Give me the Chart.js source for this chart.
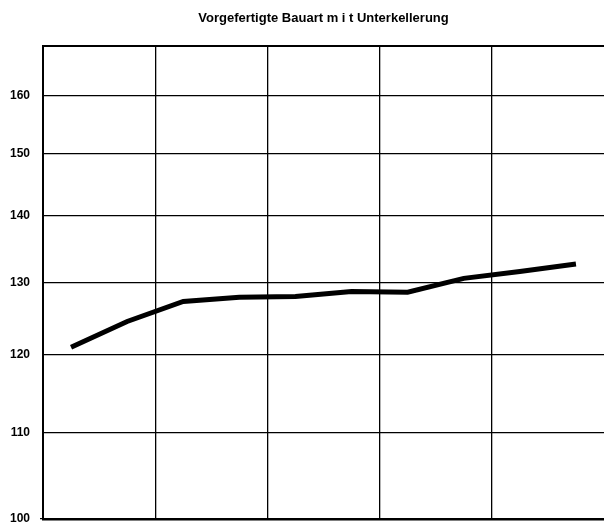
<!DOCTYPE html>
<html>
<head>
<meta charset="utf-8">
<script src="https://cdn.jsdelivr.net/npm/chart.js@4/dist/chart.umd.min.js"></script>
<style>
  html, body { margin: 0; padding: 0; background: #fff; }
  #wrap { width: 604px; height: 524px; position: relative; }
</style>
</head>
<body>
<div id="wrap"><canvas id="chart"></canvas></div>
<script>
  const TITLE = "Vorgefertigte Bauart m i t Unterkellerung";

  // ten periods, two per grid column
  const periods = [0.5, 1.5, 2.5, 3.5, 4.5, 5.5, 6.5, 7.5, 8.5, 9.5];
  const indexValues = [121.0, 124.5, 127.3, 127.9, 128.0, 128.7, 128.6, 130.6, 131.6, 132.7];

  const yTicks = [100, 110, 120, 130, 140, 150, 160];
  const xGrid = [0, 2, 4, 6, 8];

  const FONT = "'Liberation Sans', Arial, Helvetica, sans-serif";

  const titleAndFrame = {
    id: "titleAndFrame",
    afterDraw(chart) {
      const { ctx, chartArea } = chart;
      ctx.save();
      ctx.strokeStyle = "#000";
      ctx.lineWidth = 2;
      ctx.beginPath();
      ctx.moveTo(chartArea.left, chartArea.top);
      ctx.lineTo(chartArea.right, chartArea.top);
      ctx.stroke();

      ctx.fillStyle = "#000";
      ctx.font = "bold 13px " + FONT;
      ctx.textAlign = "center";
      ctx.textBaseline = "middle";
      ctx.fillText(TITLE, (chartArea.left + chartArea.right) / 2, 18);
      ctx.restore();
    }
  };

  new Chart(document.getElementById("chart").getContext("2d"), {
    type: "line",
    data: {
      datasets: [{
        data: periods.map((x, i) => ({ x, y: indexValues[i] })),
        borderColor: "#000",
        borderWidth: 5,
        pointRadius: 0,
        tension: 0,
        fill: false
      }]
    },
    options: {
      responsive: true,
      maintainAspectRatio: false,
      animation: false,
      layout: { padding: { top: 46, right: 0, bottom: 0, left: 0 } },
      plugins: {
        legend: { display: false },
        tooltip: { enabled: false },
        title: { display: false }
      },
      scales: {
        x: {
          type: "linear",
          min: 0,
          max: 10,
          afterBuildTicks: (scale) => {
            scale.ticks = xGrid.map((value) => ({ value }));
          },
          afterFit: (scale) => {
            scale.height = 5;
            scale.paddingLeft = 0;
            scale.paddingRight = 0;
          },
          ticks: { display: false },
          grid: { color: "#000", lineWidth: 1.3, drawTicks: false },
          border: { display: true, color: "#000", width: 2.5 }
        },
        y: {
          type: "logarithmic",
          min: 100,
          max: 169,
          afterBuildTicks: (scale) => {
            scale.ticks = yTicks.map((value) => ({ value }));
          },
          afterFit: (scale) => {
            scale.width = 43;
            scale.paddingTop = 0;
            scale.paddingBottom = 0;
          },
          ticks: {
            color: "#000",
            font: { family: FONT, size: 12, weight: "bold" },
            padding: 10,
            callback: (value) => String(value)
          },
          grid: {
            color: "#000",
            lineWidth: 1.3,
            tickLength: 3,
            tickColor: (ctx) => (ctx.tick && ctx.tick.value === 100 ? "#000" : "rgba(0,0,0,0)")
          },
          border: { display: true, color: "#000", width: 2 }
        }
      }
    },
    plugins: [titleAndFrame]
  });
</script>
</body>
</html>
